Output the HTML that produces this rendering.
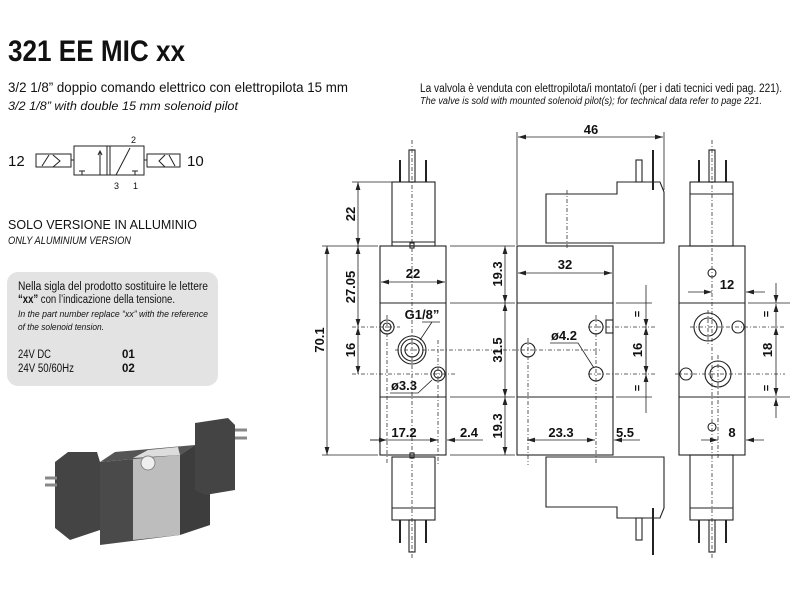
<!DOCTYPE html>
<html><head><meta charset="utf-8"><style>
html,body{margin:0;padding:0;background:#fff;width:800px;height:600px;overflow:hidden}
svg{display:block}
text{font-family:"Liberation Sans",sans-serif}
</style></head><body>
<svg width="800" height="600" viewBox="0 0 800 600" xmlns="http://www.w3.org/2000/svg">
<defs>
<marker id="a" viewBox="0 0 10 6" refX="10" refY="3" markerWidth="8" markerHeight="5" orient="auto-start-reverse" markerUnits="userSpaceOnUse"><path d="M0,0L10,3L0,6z" fill="#222"/></marker>
</defs>
<text x="8" y="61" font-size="30" font-weight="bold" fill="#111" textLength="177" lengthAdjust="spacingAndGlyphs">321 EE MIC xx</text>
<text x="8" y="92" font-size="14" fill="#111" textLength="340" lengthAdjust="spacingAndGlyphs">3/2 1/8” doppio comando elettrico con elettropilota 15 mm</text>
<text x="8" y="110" font-size="12" font-style="italic" fill="#111" textLength="230" lengthAdjust="spacingAndGlyphs">3/2 1/8” with double 15 mm solenoid pilot</text>
<text x="420" y="92" font-size="11.5" fill="#111" textLength="362" lengthAdjust="spacingAndGlyphs">La valvola è venduta con elettropilota/i montato/i (per i dati tecnici vedi pag. 221).</text>
<text x="420" y="104" font-size="10" font-style="italic" fill="#111" textLength="342" lengthAdjust="spacingAndGlyphs">The valve is sold with mounted solenoid pilot(s); for technical data refer to page 221.</text>

<!-- symbol -->
<g stroke="#222" stroke-width="1" fill="none">
<rect x="36" y="154" width="35" height="13"/><path d="M42,166L49,155M53,155L60,161L53,167"/>
<line x1="71" y1="160" x2="74" y2="160"/>
<rect x="74" y="146" width="36" height="29"/><rect x="110" y="146" width="34" height="29"/>
<line x1="107" y1="146" x2="107" y2="175"/>
<path d="M100,175L100,152M98,155L100,151L102,155"/>
<path d="M82,175L82,171M79,171L85,171"/>
<path d="M116,175L130,148"/>
<path d="M135,175L135,171M132,171L138,171"/>
<line x1="144" y1="160" x2="147" y2="160"/>
<rect x="147" y="154" width="33" height="13"/><path d="M165,155L159,161L165,167M169,155L175,166"/>
</g>
<text x="8" y="166" font-size="15" fill="#111">12</text>
<text x="187" y="166" font-size="15" fill="#111">10</text>
<text x="131" y="143" font-size="9" fill="#111">2</text>
<text x="114" y="189" font-size="9" fill="#111">3</text>
<text x="133" y="189" font-size="9" fill="#111">1</text>

<text x="8" y="229" font-size="13" fill="#111" textLength="189" lengthAdjust="spacingAndGlyphs">SOLO VERSIONE IN ALLUMINIO</text>
<text x="8" y="244" font-size="11" font-style="italic" fill="#111" textLength="123" lengthAdjust="spacingAndGlyphs">ONLY ALUMINIUM VERSION</text>

<rect x="7" y="272" width="211" height="114" rx="11" fill="#e3e3e3"/>
<text x="18" y="290" font-size="11.5" fill="#111" textLength="190" lengthAdjust="spacingAndGlyphs">Nella sigla del prodotto sostituire le lettere</text>
<text x="18" y="303" font-size="11.5" fill="#111" textLength="157" lengthAdjust="spacingAndGlyphs"><tspan font-weight="bold">“xx”</tspan> con l’indicazione della tensione.</text>
<text x="18" y="317" font-size="9" font-style="italic" fill="#111" textLength="190" lengthAdjust="spacingAndGlyphs">In the part number replace “xx” with the reference</text>
<text x="18" y="330" font-size="9" font-style="italic" fill="#111" textLength="86" lengthAdjust="spacingAndGlyphs">of the solenoid tension.</text>
<text x="18" y="358" font-size="11.5" fill="#111" textLength="33" lengthAdjust="spacingAndGlyphs">24V DC</text><text x="122" y="358" font-size="11.5" font-weight="bold" fill="#111">01</text>
<text x="18" y="372" font-size="11.5" fill="#111" textLength="56" lengthAdjust="spacingAndGlyphs">24V 50/60Hz</text><text x="122" y="372" font-size="11.5" font-weight="bold" fill="#111">02</text>

<!-- photo -->
<g>
<polygon points="100,462 180,455 180,535 100,545" fill="#4a4a4a"/>
<polygon points="133,458 180,455 180,535 133,540" fill="#bdbdbd"/>
<polygon points="100,462 115,452 195,445 180,455" fill="#555"/>
<polygon points="133,458 148,450 178,447 180,455" fill="#ddd"/>
<polygon points="180,455 195,445 210,445 210,525 180,535" fill="#3d3d3d"/>
<polygon points="55,462 68,452 97,452 100,462 100,530 70,540 55,528" fill="#444"/>
<polygon points="195,423 228,418 235,425 235,490 205,495 195,490" fill="#444"/>
<circle cx="148" cy="463" r="7" fill="#eee" stroke="#888"/>
<path d="M45,478h12M45,485h12M235,430h12M235,438h12" stroke="#888" stroke-width="3"/>
</g>

<!-- drawings -->
<g stroke="#222" stroke-width="1.1" fill="none">
<rect x="380" y="246" width="66" height="209"/>
<line x1="380" y1="303" x2="446" y2="303"/><line x1="380" y1="397" x2="446" y2="397"/>
<rect x="392" y="182" width="43" height="64"/><line x1="392" y1="242" x2="435" y2="242"/>
<rect x="409" y="150" width="6" height="32"/><line x1="400" y1="160" x2="400" y2="182" stroke-width="2"/><line x1="426" y1="160" x2="426" y2="182" stroke-width="2"/>
<rect x="392" y="457" width="43" height="63"/><line x1="392" y1="508" x2="435" y2="508"/>
<rect x="409" y="520" width="6" height="32"/><line x1="400" y1="520" x2="400" y2="543" stroke-width="2"/><line x1="426" y1="520" x2="426" y2="543" stroke-width="2"/>
<rect x="410" y="243" width="4" height="5"/><rect x="410" y="453" width="4" height="5"/>
<circle cx="387" cy="327" r="7"/><circle cx="387" cy="327" r="4"/>
<circle cx="412" cy="350" r="14"/><circle cx="412" cy="350" r="11"/><circle cx="412" cy="350" r="7"/>
<circle cx="438" cy="374" r="7"/><circle cx="438" cy="374" r="4"/>
<rect x="517" y="246" width="96" height="209"/>
<line x1="517" y1="303" x2="613" y2="303"/><line x1="517" y1="397" x2="613" y2="397"/>
<path d="M546,243V194H617V182H660L664,192V243Z"/><line x1="546" y1="246" x2="588" y2="246"/><line x1="546" y1="243" x2="588" y2="243"/>
<rect x="636" y="160" width="6" height="22"/><line x1="653" y1="150" x2="653" y2="190" stroke-width="2"/>
<path d="M546,457V507H617V518H660L664,508V457Z"/><line x1="546" y1="457" x2="588" y2="457"/>
<rect x="636" y="518" width="6" height="22"/><line x1="653" y1="508" x2="653" y2="555" stroke-width="2"/>
<circle cx="596" cy="327" r="7"/><rect x="606" y="320" width="7" height="13"/>
<circle cx="528" cy="350" r="7"/><circle cx="596" cy="374" r="7"/>
<rect x="679" y="246" width="66" height="209"/>
<line x1="679" y1="303" x2="745" y2="303"/><line x1="679" y1="397" x2="745" y2="397"/>
<rect x="690" y="182" width="43" height="64"/><line x1="690" y1="194" x2="733" y2="194"/>
<rect x="709" y="150" width="6" height="32"/><line x1="699" y1="160" x2="699" y2="182" stroke-width="2"/><line x1="726" y1="160" x2="726" y2="182" stroke-width="2"/>
<rect x="690" y="455" width="43" height="65"/><line x1="690" y1="508" x2="733" y2="508"/>
<rect x="709" y="520" width="6" height="32"/><line x1="699" y1="520" x2="699" y2="543" stroke-width="2"/><line x1="726" y1="520" x2="726" y2="543" stroke-width="2"/>
<circle cx="712" cy="273" r="4"/><circle cx="712" cy="427" r="4"/>
<circle cx="708" cy="327" r="14"/><circle cx="708" cy="327" r="9"/>
<circle cx="738" cy="327" r="6"/><circle cx="686" cy="374" r="6"/>
<circle cx="718" cy="374" r="13"/><circle cx="718" cy="374" r="8"/>
</g>
<g stroke="#333" stroke-width="0.8" stroke-dasharray="4,2,1,2" fill="none">
<line x1="412" y1="140" x2="412" y2="560"/><line x1="387" y1="315" x2="387" y2="465"/><line x1="438" y1="340" x2="438" y2="465"/>
<line x1="352" y1="327" x2="400" y2="327"/><line x1="352" y1="374" x2="455" y2="374"/><line x1="395" y1="350" x2="600" y2="350"/>
<line x1="588" y1="327" x2="655" y2="327"/><line x1="588" y1="374" x2="655" y2="374"/><line x1="596" y1="315" x2="596" y2="465"/><line x1="528" y1="338" x2="528" y2="465"/>
<line x1="567" y1="190" x2="567" y2="250"/>
<line x1="712" y1="140" x2="712" y2="560"/><line x1="690" y1="327" x2="785" y2="327"/><line x1="675" y1="374" x2="785" y2="374"/><line x1="708" y1="310" x2="708" y2="345"/><line x1="718" y1="355" x2="718" y2="460"/>
</g>
<g stroke="#222" stroke-width="0.8" fill="none">
<line x1="352" y1="182" x2="392" y2="182"/><line x1="322" y1="246" x2="378" y2="246"/><line x1="322" y1="455" x2="378" y2="455"/>
<line x1="358" y1="182" x2="358" y2="246" marker-start="url(#a)" marker-end="url(#a)"/>
<line x1="327" y1="246" x2="327" y2="455" marker-start="url(#a)" marker-end="url(#a)"/>
<line x1="358" y1="246" x2="358" y2="327" marker-start="url(#a)" marker-end="url(#a)"/>
<line x1="358" y1="327" x2="358" y2="374" marker-start="url(#a)" marker-end="url(#a)"/>
<line x1="450" y1="246" x2="515" y2="246"/><line x1="450" y1="303" x2="515" y2="303"/><line x1="450" y1="397" x2="515" y2="397"/><line x1="450" y1="455" x2="515" y2="455"/>
<line x1="505" y1="246" x2="505" y2="303" marker-start="url(#a)" marker-end="url(#a)"/>
<line x1="505" y1="303" x2="505" y2="397" marker-start="url(#a)" marker-end="url(#a)"/>
<line x1="505" y1="397" x2="505" y2="455" marker-start="url(#a)" marker-end="url(#a)"/>
<line x1="381" y1="282" x2="445" y2="282" marker-start="url(#a)" marker-end="url(#a)"/>
<line x1="370" y1="440" x2="438" y2="440" marker-end="url(#a)"/><line x1="370" y1="440" x2="387" y2="440" marker-end="url(#a)"/>
<line x1="483" y1="440" x2="447" y2="440" marker-end="url(#a)"/>
<path d="M422,322L440,322M432,322L420,340" /><path d="M390,393L418,393L432,380"/>
<line x1="517" y1="245" x2="517" y2="132"/><line x1="664" y1="190" x2="664" y2="132"/>
<line x1="518" y1="137" x2="663" y2="137" marker-start="url(#a)" marker-end="url(#a)"/>
<line x1="518" y1="273" x2="612" y2="273" marker-start="url(#a)" marker-end="url(#a)"/>
<line x1="616" y1="303" x2="652" y2="303"/><line x1="616" y1="397" x2="652" y2="397"/>
<line x1="646" y1="285" x2="646" y2="327" marker-end="url(#a)"/><line x1="646" y1="374" x2="646" y2="327" marker-end="url(#a)"/>
<line x1="646" y1="327" x2="646" y2="374" marker-end="url(#a)"/><line x1="646" y1="413" x2="646" y2="374" marker-end="url(#a)"/>
<line x1="527" y1="440" x2="595" y2="440" marker-start="url(#a)" marker-end="url(#a)"/>
<line x1="640" y1="440" x2="614" y2="440" marker-end="url(#a)"/>
<path d="M550,343L578,343L594,368"/>
<line x1="688" y1="292" x2="712" y2="292" marker-end="url(#a)"/><line x1="765" y1="292" x2="746" y2="292" marker-end="url(#a)"/>
<line x1="748" y1="303" x2="790" y2="303"/><line x1="748" y1="397" x2="790" y2="397"/>
<line x1="776" y1="283" x2="776" y2="303" marker-end="url(#a)"/><line x1="776" y1="327" x2="776" y2="304" marker-end="url(#a)"/>
<line x1="776" y1="327" x2="776" y2="396" marker-start="url(#a)" marker-end="url(#a)"/>
<line x1="776" y1="418" x2="776" y2="398" marker-end="url(#a)"/>
<line x1="701" y1="440" x2="718" y2="440" marker-end="url(#a)"/><line x1="764" y1="440" x2="746" y2="440" marker-end="url(#a)"/>
</g>
<g font-size="13" font-weight="bold" fill="#111">
<text x="355" y="214" transform="rotate(-90 355 214)" text-anchor="middle">22</text>
<text x="324" y="340" transform="rotate(-90 324 340)" text-anchor="middle">70.1</text>
<text x="355" y="287" transform="rotate(-90 355 287)" text-anchor="middle">27.05</text>
<text x="355" y="350" transform="rotate(-90 355 350)" text-anchor="middle">16</text>
<text x="502" y="274" transform="rotate(-90 502 274)" text-anchor="middle">19.3</text>
<text x="502" y="350" transform="rotate(-90 502 350)" text-anchor="middle">31.5</text>
<text x="502" y="426" transform="rotate(-90 502 426)" text-anchor="middle">19.3</text>
<text x="413" y="278" text-anchor="middle">22</text>
<text x="422" y="319" text-anchor="middle">G1/8”</text>
<text x="404" y="390" text-anchor="middle">ø3.3</text>
<text x="404" y="437" text-anchor="middle">17.2</text>
<text x="469" y="437" text-anchor="middle">2.4</text>
<text x="591" y="134" text-anchor="middle">46</text>
<text x="565" y="269" text-anchor="middle">32</text>
<text x="564" y="340" text-anchor="middle">ø4.2</text>
<text x="642" y="350" transform="rotate(-90 642 350)" text-anchor="middle">16</text>
<text x="561" y="437" text-anchor="middle">23.3</text>
<text x="625" y="437" text-anchor="middle">5.5</text>
<text x="727" y="289" text-anchor="middle">12</text>
<text x="772" y="350" transform="rotate(-90 772 350)" text-anchor="middle">18</text>
<text x="732" y="437" text-anchor="middle">8</text>
<text x="637" y="318" font-size="11" transform="rotate(-90 637 314)" text-anchor="middle">=</text>
<text x="637" y="392" font-size="11" transform="rotate(-90 637 388)" text-anchor="middle">=</text>
<text x="766" y="318" font-size="11" transform="rotate(-90 766 314)" text-anchor="middle">=</text>
<text x="766" y="392" font-size="11" transform="rotate(-90 766 388)" text-anchor="middle">=</text>
</g>
</svg>
</body></html>
